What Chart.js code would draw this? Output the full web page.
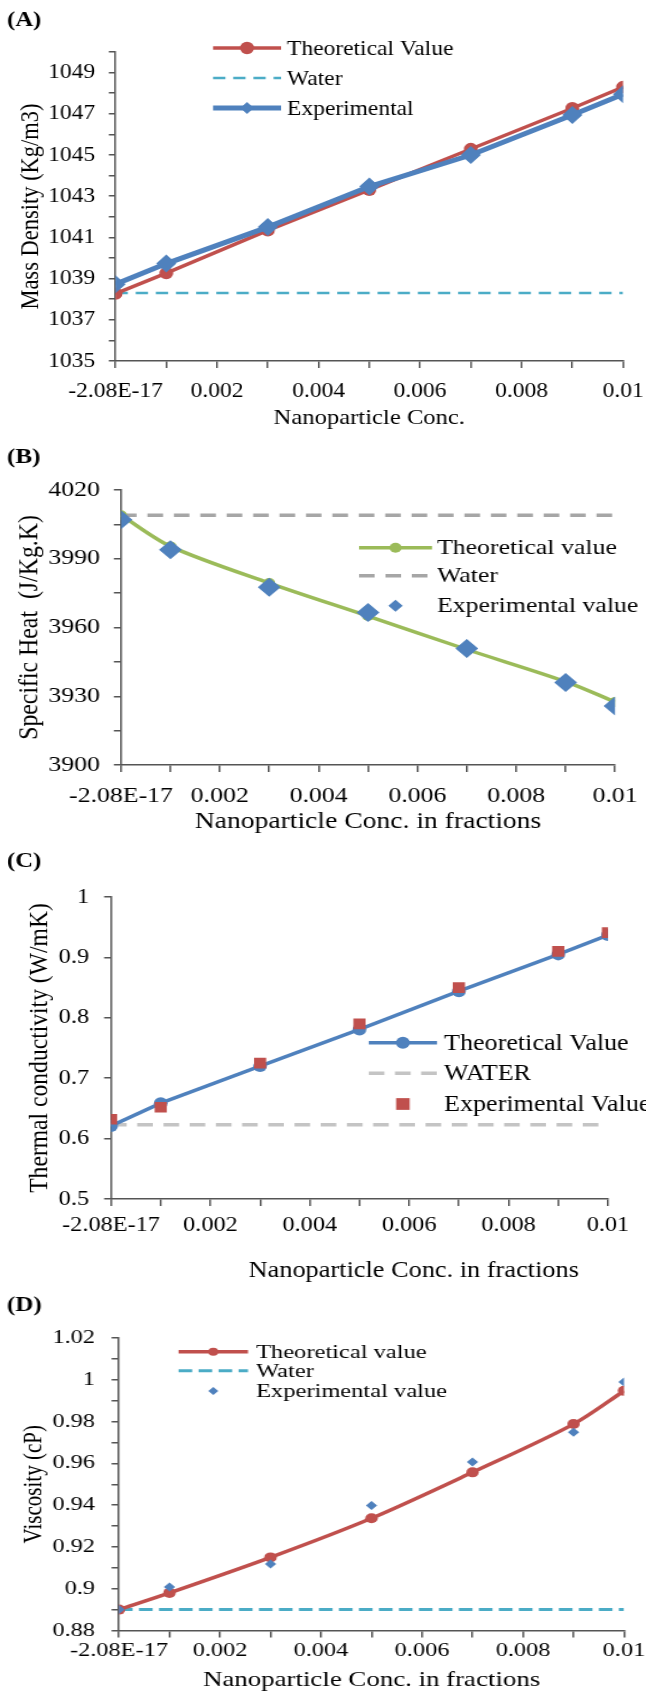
<!DOCTYPE html>
<html>
<head>
<meta charset="utf-8">
<script src="https://cdn.jsdelivr.net/npm/chart.js@4.4.1/dist/chart.umd.min.js"></script>
<style>
  html, body { margin: 0; padding: 0; background: #fff; width: 646px; height: 1693px; overflow: hidden; }
  canvas { position: absolute; left: 0; transform-origin: 0 0; }
</style>
</head>
<body>
<canvas id="panelA" width="577" height="431" style="top:0px"></canvas>
<canvas id="panelB" width="538" height="416" style="top:420px"></canvas>
<canvas id="panelC" width="562" height="443" style="top:840px"></canvas>
<canvas id="panelD" width="517" height="413" style="top:1280px"></canvas>
<script>
// ---- shared x axis: nanoparticle volume fraction ----
const conc = [0, 0.001, 0.003, 0.005, 0.007, 0.009, 0.01];
const waterConc = [0, 0.01];
const xTickValues = [0, 0.001, 0.002, 0.003, 0.004, 0.005, 0.006, 0.007, 0.008, 0.009, 0.01];
const xTickLabels = ['-2.08E-17', '', '0.002', '', '0.004', '', '0.006', '', '0.008', '', '0.01'];

// ---- (A) mass density, kg/m3 ----
const densityTheory = [1038.27, 1039.27, 1041.34, 1043.31, 1045.29, 1047.27, 1048.30];
const densityWater = [1038.3, 1038.3];
const densityExp = [1038.73, 1039.73, 1041.50, 1043.47, 1045.00, 1046.94, 1047.95];
const densityTicks = [1035, 1036, 1037, 1038, 1039, 1040, 1041, 1042, 1043, 1044, 1045, 1046, 1047, 1048, 1049, 1050];
const densityTickLabels = ['1035', '', '1037', '', '1039', '', '1041', '', '1043', '', '1045', '', '1047', '', '1049', ''];

// ---- (B) specific heat, J/kg.K ----
const heatTheory = [4009.0, 3995.4, 3979.4, 3965.0, 3950.4, 3936.4, 3927.5];
const heatWater = [4009, 4009];
const heatExp = [4007.0, 3993.9, 3977.6, 3966.5, 3950.8, 3936.0, 3925.7];
const heatTicks = [3900, 3915, 3930, 3945, 3960, 3975, 3990, 4005, 4020];
const heatTickLabels = ['3900', '', '3930', '', '3960', '', '3990', '', '4020'];

// ---- (C) thermal conductivity, W/mK ----
const condTheory = [0.621, 0.6586, 0.720, 0.7807, 0.844, 0.905, 0.937];
const condWater = [0.623, 0.623];
const condExp = [0.632, 0.652, 0.725, 0.790, 0.850, 0.910, 0.941];
const condTicks = [0.5, 0.6, 0.7, 0.8, 0.9, 1];
const condTickLabels = ['0.5', '0.6', '0.7', '0.8', '0.9', '1'];

// ---- (D) viscosity, cP ----
const viscTheory = [0.890, 0.898, 0.915, 0.9337, 0.9557, 0.9788, 0.9947];
const viscWater = [0.89, 0.89];
const viscExp = [0.890, 0.9008, 0.9118, 0.9398, 0.9607, 0.9749, 0.999];
const viscTicks = [0.88, 0.89, 0.90, 0.91, 0.92, 0.93, 0.94, 0.95, 0.96, 0.97, 0.98, 0.99, 1.00, 1.01, 1.02];
const viscTickLabels = ['0.88', '', '0.9', '', '0.92', '', '0.94', '', '0.96', '', '0.98', '', '1', '', '1.02'];

const RED = '#C0504D', BLUE = '#4F81BD', CYAN = '#4BACC6', GREEN = '#9BBB59';
const AXIS = '#555555';
const SERIF = '"Liberation Serif", "Times New Roman", serif';
const PAGE_W = 646;

Chart.defaults.font.family = SERIF;
Chart.defaults.color = '#000';

const pts = (xs, ys) => ys.map((y, i) => ({ x: xs[i], y }));

// panel tag, legend and free-standing titles
function drawMarker(ctx, style, r, x, y) {
  if (Chart.helpers && Chart.helpers.drawPoint) {
    Chart.helpers.drawPoint(ctx, { pointStyle: style, radius: r, rotation: 0, borderWidth: 0 }, x, y);
    return;
  }
  ctx.beginPath();
  if (style === 'circle') ctx.arc(x, y, r, 0, Math.PI * 2);
  else if (style === 'rectRot') { ctx.moveTo(x - r, y); ctx.lineTo(x, y - r); ctx.lineTo(x + r, y); ctx.lineTo(x, y + r); ctx.closePath(); }
  else { const s = r * Math.SQRT1_2; ctx.rect(x - s, y - s, 2 * s, 2 * s); }
  ctx.fill();
}

const panelDecor = {
  id: 'panelDecor',
  afterDraw(chart, args, o) {
    const ctx = chart.ctx;
    ctx.save();
    ctx.fillStyle = '#000';
    ctx.textBaseline = 'middle';
    ctx.textAlign = 'left';
    ctx.font = `bold ${o.tagSize}px ${SERIF}`;
    ctx.fillText(o.tag, o.tagX, o.tagY);
    if (o.xTitle) {
      ctx.font = `${o.xTitle.size}px ${SERIF}`;
      ctx.textAlign = 'center';
      ctx.fillText(o.xTitle.text, o.xTitle.x, o.xTitle.y);
      ctx.textAlign = 'left';
    }
    ctx.font = `${o.legendSize}px ${SERIF}`;
    const mid = (o.lineX1 + o.lineX2) / 2;
    o.items.forEach(it => {
      const ds = chart.data.datasets[it.dataset];
      if (ds.showLine !== false) {
        ctx.save();
        ctx.strokeStyle = ds.borderColor;
        ctx.lineWidth = ds.borderWidth;
        ctx.setLineDash(it.dash || ds.borderDash || []);
        ctx.beginPath();
        ctx.moveTo(o.lineX1, it.y);
        ctx.lineTo(o.lineX2, it.y);
        ctx.stroke();
        ctx.restore();
      }
      if (ds.pointRadius > 0) {
        ctx.save();
        ctx.fillStyle = ds.pointBackgroundColor;
        drawMarker(ctx, ds.pointStyle, it.r || ds.pointRadius, mid, it.y);
        ctx.restore();
      }
      ctx.fillText(ds.label, o.textX, it.y + (o.textDy || 0));
    });
    ctx.restore();
  }
};

function xAxis(title, titleSize, height, tickSize, tickPad) {
  return {
    type: 'linear', min: 0, max: 0.01,
    afterBuildTicks: s => { s.ticks = xTickValues.map(v => ({ value: v })); },
    afterFit: s => { s.height = height; s.paddingLeft = 0; s.paddingRight = 0; },
    ticks: { autoSkip: false, maxRotation: 0, minRotation: 0, padding: tickPad, color: '#000',
             font: { size: tickSize }, callback: (v, i) => xTickLabels[i] },
    grid: { drawOnChartArea: false, drawTicks: true, tickLength: 7, color: AXIS, lineWidth: 1.5 },
    border: { display: true, color: AXIS, width: 1.5 },
    title: { display: !!title, text: title, color: '#000', font: { size: titleSize }, padding: 0 }
  };
}

function yAxis(values, labels, title, titleSize, width, tickSize, tickPad) {
  return {
    type: 'linear', min: values[0], max: values[values.length - 1],
    afterBuildTicks: s => { s.ticks = values.map(v => ({ value: v })); },
    afterFit: s => { s.width = width; s.paddingTop = 0; s.paddingBottom = 0; },
    ticks: { autoSkip: false, padding: tickPad, color: '#000', font: { size: tickSize },
             callback: (v, i) => labels[i] },
    grid: { drawOnChartArea: false, drawTicks: true, tickLength: 6, color: AXIS, lineWidth: 1.5 },
    border: { display: true, color: AXIS, width: 1.5 },
    title: { display: true, text: title, color: '#000', font: { size: titleSize }, padding: 0 }
  };
}

function lineSet(label, ys, color, width, style, radius, order, extra) {
  return Object.assign({
    label, data: pts(conc, ys), borderColor: color, borderWidth: width,
    pointStyle: style, pointRadius: radius, pointHoverRadius: radius,
    pointBackgroundColor: color, pointBorderColor: color, pointBorderWidth: 0,
    tension: 0, order, fill: false
  }, extra || {});
}

function waterSet(label, ys, color, width, dash, order) {
  return {
    label, data: pts(waterConc, ys), borderColor: color, borderWidth: width,
    borderDash: dash, pointRadius: 0, pointHoverRadius: 0, order, fill: false,
    pointBackgroundColor: color
  };
}

// each panel is drawn on its own canvas and widened to the page width
function makeChart(id, datasets, scales, padding, decor) {
  const canvas = document.getElementById(id);
  canvas.style.transform = `scaleX(${PAGE_W / canvas.width})`;
  return new Chart(canvas, {
    type: 'line',
    data: { datasets },
    options: {
      responsive: false, animation: false, devicePixelRatio: 1,
      layout: { padding },
      plugins: { legend: { display: false }, tooltip: { enabled: false }, panelDecor: decor },
      scales
    },
    plugins: [panelDecor]
  });
}

// (A) Mass density
makeChart('panelA', [
  lineSet('Theoretical Value', densityTheory, RED, 3.5, 'circle', 6.2, 2),
  waterSet('Water', densityWater, CYAN, 2.5, [11, 7], 3),
  lineSet('Experimental', densityExp, BLUE, 5, 'rectRot', 9, 1)
], {
  x: xAxis('Nanoparticle Conc.', 22, 70, 21, 11),
  y: yAxis(densityTicks, densityTickLabels, 'Mass Density (Kg/m3)', 22.5, 89, 21, 12.3)
}, { left: 14.2, right: 20.5, top: 52, bottom: 0 }, {
  tag: '(A)', tagSize: 22, tagX: 6.3, tagY: 20,
  legendSize: 21, lineX1: 190.3, lineX2: 251, textX: 256.3, textDy: 1,
  items: [{ dataset: 0, y: 48 }, { dataset: 1, y: 78 }, { dataset: 2, y: 108, r: 6 }]
});

// (B) Specific heat
makeChart('panelB', [
  lineSet('Theoretical value', heatTheory, GREEN, 3.5, 'circle', 5, 2, { tension: 0.3 }),
  waterSet('Water', heatWater, '#A6A6A6', 3.5, [13, 9], 3),
  lineSet('Experimental value', heatExp, BLUE, 0, 'rectRot', 9.5, 1, { showLine: false })
], {
  x: xAxis('Nanoparticle Conc. in fractions', 23, 71, 21.5, 11.8),
  y: yAxis(heatTicks, heatTickLabels, 'Specific Heat  (J/Kg.K)', 23.8, 90.07, 21.5, 11.5)
}, { left: 10.7, right: 25.8, top: 70, bottom: 0 }, {
  tag: '(B)', tagSize: 21, tagX: 5.8, tagY: 38,
  legendSize: 21.5, lineX1: 299, lineX2: 359.8, textX: 363.9, textDy: 1,
  items: [{ dataset: 0, y: 127.7 }, { dataset: 1, y: 155.7 }, { dataset: 2, y: 185.7, r: 6 }]
});

// (C) Thermal conductivity
makeChart('panelC', [
  lineSet('Theoretical Value', condTheory, BLUE, 3.5, 'circle', 6, 2),
  waterSet('WATER', condWater, '#C4C4C4', 3.5, [13.6, 9.2], 3),
  lineSet('Experimental Value', condExp, RED, 0, 'rect', 7.5, 1, { showLine: false })
], {
  x: xAxis('', 22.9, 84, 21.1, 6.3),
  y: yAxis(condTicks, condTickLabels, 'Thermal conductivity (W/mK)', 23.6, 75.93, 21.1, 13.1)
}, { left: 20.64, right: 33.1, top: 57, bottom: 0 }, {
  tag: '(C)', tagSize: 21.5, tagX: 6, tagY: 21,
  xTitle: { text: 'Nanoparticle Conc. in fractions', size: 22.9, x: 359.9, y: 431 },
  legendSize: 22.7, lineX1: 320.8, lineX2: 380.2, textX: 386.3, textDy: 1,
  items: [{ dataset: 0, y: 202.7 }, { dataset: 1, y: 233.3 }, { dataset: 2, y: 264, r: 8.3 }]
});

// (D) Viscosity
makeChart('panelD', [
  lineSet('Theoretical value', viscTheory, RED, 3.5, 'circle', 5, 2, { tension: 0.3 }),
  waterSet('Water', viscWater, CYAN, 3, [10.9, 5.1], 3),
  lineSet('Experimental value', viscExp, BLUE, 0, 'rectRot', 4.5, 1, { showLine: false })
], {
  x: xAxis('Nanoparticle Conc. in fractions', 21.5, 62.5, 19.5, 2),
  y: yAxis(viscTicks, viscTickLabels, 'Viscosity (cP)', 21, 80.64, 19.5, 13.2)
}, { left: 14.6, right: 17.6, top: 58, bottom: 0 }, {
  tag: '(D)', tagSize: 20, tagX: 5.6, tagY: 26,
  legendSize: 19.6, lineX1: 142.9, lineX2: 198.5, textX: 204.9, textDy: 1.3,
  items: [{ dataset: 0, y: 71.7, r: 4 }, { dataset: 1, y: 90.7 }, { dataset: 2, y: 111, r: 4 }]
});
</script>
</body>
</html>
